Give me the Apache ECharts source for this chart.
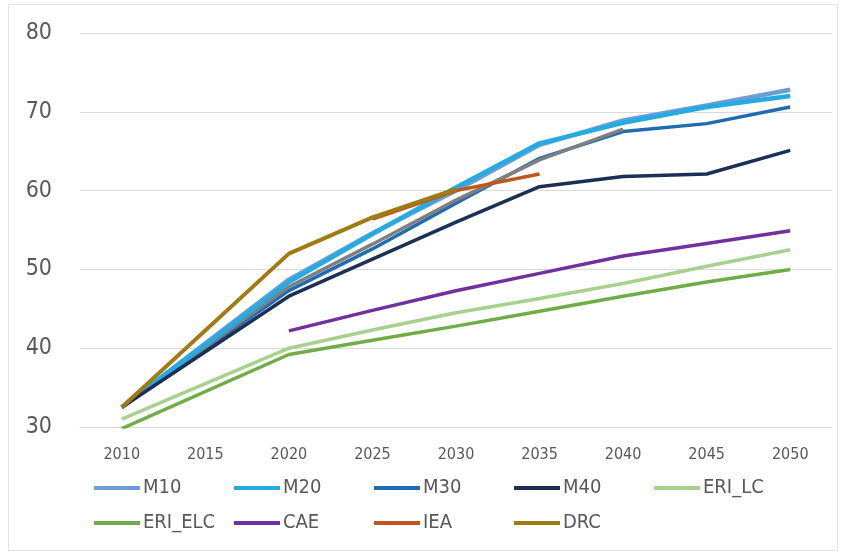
<!DOCTYPE html>
<html><head><meta charset="utf-8">
<script src="https://cdn.jsdelivr.net/npm/echarts@6/dist/echarts.min.js"></script>
<style>html,body{margin:0;padding:0;background:#fff}#c{width:846px;height:557px}</style>
</head><body><div id="c"></div>
<script>
const years = ['2010','2015','2020','2025','2030','2035','2040','2045','2050'];
const M10     = [32.5, null, 48.7, 54.6, 60.0, 65.8, 68.9, 70.8, 72.8];
const M20     = [32.5, null, 48.4, 54.5, 60.4, 66.0, 68.6, 70.6, 72.0];
const M30     = [32.5, null, 47.3, 52.6, 58.4, 64.1, 67.5, 68.5, 70.6];
const GREY    = [32.5, null, 47.8, 53.2, 58.8, 63.9, 67.8, null, null];
const M40     = [32.5, null, 46.6, 51.3, 56.0, 60.5, 61.8, 62.1, 65.1];
const ERI_LC  = [31.0, null, 40.0, 42.3, 44.5, 46.3, 48.2, 50.4, 52.5];
const ERI_ELC = [29.8, null, 39.2, 41.0, 42.8, 44.7, 46.6, 48.4, 50.0];
const CAE     = [null, null, 42.2, 44.8, 47.3, 49.5, 51.7, 53.3, 54.9];
const IEA     = [null, null, null, 56.4, 60.0, 62.1, null, null, null];
const DRC     = [32.5, null, 52.0, 56.6, 60.2, null, null, null, null];
const yTicks  = [30, 80, 10];

const FONT = '"Liberation Sans Narrow","DejaVu Sans Condensed",Arial,sans-serif';
const colors = {
  M10:'#6b9ed6', M20:'#25aae2', M30:'#1f6cb3', M40:'#1c2f57', ERI_LC:'#a9d18e',
  ERI_ELC:'#70ad47', CAE:'#7030a0', IEA:'#c0561a', DRC:'#a07a12', GREY:'#7f7f7f'
};
function s(name, data, w, z){
  return {name, type:'line', data, connectNulls:true, symbol:'none', smooth:false,
    lineStyle:{color:colors[name], width:w}, itemStyle:{color:colors[name]}, z:z||2};
}
const series = [
  s('M30', M30, 3.5), s('GREY', GREY, 3.5), s('M10', M10, 4.5), s('M20', M20, 4.5),
  s('M40', M40, 3.5), s('ERI_LC', ERI_LC, 3.5), s('ERI_ELC', ERI_ELC, 3.5),
  s('CAE', CAE, 3.5), s('IEA', IEA, 3.5), s('DRC', DRC, 4)
];
const legPos = [
  ['M10',94,478],['M20',234,478],['M30',374,478],['M40',514,478],['ERI_LC',654,478],
  ['ERI_ELC',94,513],['CAE',234,513],['IEA',374,513],['DRC',514,513]
];
const legend = legPos.map(([n,l,t]) => ({
  data:[n], left:l, top:t, icon:'rect', itemWidth:46, itemHeight:4, padding:0, itemGap:0,
  textStyle:{color:'#595959', fontSize:20, fontFamily:FONT, padding:[0,0,0,-2]}
}));
const chart = echarts.init(document.getElementById('c'));
chart.setOption({
  animation:false,
  color:Object.values(colors),
  graphic:[{type:'rect', shape:{x:8.5,y:4.5,width:829,height:546}, style:{fill:'none', stroke:'#e3e3e3', lineWidth:1}}],
  grid:{left:80, right:14, top:33, bottom:130, containLabel:false},
  legend,
  xAxis:{type:'category', data:years, boundaryGap:true,
    axisLine:{show:true, lineStyle:{color:'#d9d9d9'}}, axisTick:{show:false},
    axisLabel:{color:'#595959', fontSize:16, fontFamily:FONT, margin:20}},
  yAxis:{type:'value', min:yTicks[0], max:yTicks[1], interval:yTicks[2],
    axisLine:{show:false}, axisTick:{show:false},
    splitLine:{lineStyle:{color:'#d9d9d9'}},
    axisLabel:{color:'#595959', fontSize:23, fontFamily:FONT, margin:28}},
  series
});
</script></body></html>
